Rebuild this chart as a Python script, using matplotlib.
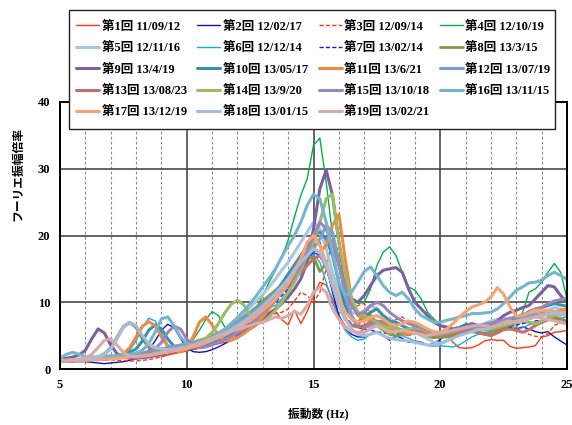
import matplotlib
matplotlib.use("Agg")
import matplotlib.pyplot as plt
from matplotlib.patches import Rectangle
from matplotlib.ticker import MultipleLocator
import numpy as np

# ---------------------------------------------------------------- datos
# 振動数 (Hz): 5〜25 Hz, 0.25 Hz 刻み
FREQ = np.arange(5.0, 25.01, 0.25)

# フーリエ振幅倍率 (1 まとまり = 1 Hz 分, 4 点)
RUN01 = [1.3, 1.3, 1.4, 1.4,  1.5, 1.6, 1.8, 2.0,  1.9, 1.7, 1.7, 1.8,  2.0, 2.0, 1.9, 1.9,
         2.0, 2.1, 2.3, 2.5,  2.7, 2.9, 3.1, 3.3,  3.6, 3.8, 4.0, 4.3,  4.8, 5.4, 5.9, 6.5,
         7.4, 8.5, 8.6, 7.4,  6.6, 8.8, 6.8, 8.6,  11.0, 13.0, 12.6, 10.5,  8.0, 6.5, 5.6, 5.4,
         6.0, 6.8, 6.6, 6.0,  5.5, 5.8, 5.2, 5.0,  5.4, 5.0, 4.8, 4.6,  5.0, 5.4, 4.0, 3.2,
         3.1, 3.2, 3.6, 4.2,  4.4, 4.3, 4.3, 3.4,  3.1, 3.2, 3.3, 3.5,  4.8, 5.0, 5.5, 5.6,
         5.8]
RUN02 = [1.2, 1.2, 1.1, 1.1,  1.1, 1.0, 0.9, 0.8,  0.9, 1.0, 1.1, 1.3,  1.6, 2.0, 2.8, 4.2,
         5.8, 6.7, 6.2, 4.6,  3.2, 2.6, 2.5, 2.6,  2.9, 3.3, 3.8, 4.3,  4.9, 5.6, 6.4, 7.4,
         8.5, 9.6, 10.6, 11.5,  12.8, 14.3, 16.5, 18.8,  20.0, 19.0, 15.5, 11.5,  8.0, 6.0, 5.2, 4.8,
         4.8, 5.2, 5.6, 5.0,  4.3, 5.0, 4.6, 4.0,  4.2, 4.0, 3.6, 3.8,  4.4, 5.2, 5.8, 6.0,
         5.6, 5.8, 6.2, 6.0,  5.8, 6.1, 6.5, 6.2,  6.0, 6.3, 6.0, 5.6,  5.4, 5.6, 4.8, 4.2,
         3.6]
RUN03 = [1.1, 1.1, 1.2, 1.2,  1.3, 1.3, 1.4, 1.4,  1.4, 1.3, 1.3, 1.2,  1.2, 1.3, 1.4, 1.6,
         1.8, 2.1, 2.5, 2.8,  3.0, 3.1, 3.3, 3.5,  3.7, 4.0, 4.3, 4.7,  5.1, 5.6, 6.2, 6.9,
         7.5, 8.0, 8.3, 8.5,  9.0, 10.2, 11.5, 11.0,  10.0, 11.5, 15.0, 19.5,  17.5, 12.0, 9.0, 9.5,
         9.8, 8.2, 7.0, 6.5,  6.8, 7.4, 7.8, 7.0,  6.2, 6.5, 6.0, 5.4,  5.2, 5.5, 5.8, 6.2,
         6.4, 6.6, 6.2, 5.8,  5.6, 5.9, 6.5, 6.8,  6.2, 5.6, 5.2, 4.9,  4.8, 5.3, 6.5, 7.0,
         7.2]
RUN04 = [1.4, 1.4, 1.5, 1.5,  1.6, 1.6, 1.7, 1.7,  1.8, 1.9, 1.9, 2.0,  2.1, 2.2, 2.3, 2.4,
         2.5, 2.7, 2.9, 3.2,  3.6, 4.4, 5.8, 7.4,  8.6, 8.0, 6.3, 5.6,  5.8, 6.6, 7.8, 9.2,
         11.0, 13.0, 14.8, 16.8,  19.3, 22.8, 26.0, 28.5,  33.5, 34.6, 28.0, 20.0,  15.5, 13.0, 10.8, 9.8,
         10.0, 12.0, 15.5, 17.5,  18.3, 17.0, 14.5, 12.3,  11.8, 10.5, 8.5, 7.5,  6.5, 6.0, 5.8, 6.3,
         6.8, 6.5, 6.2, 6.0,  6.4, 6.8, 6.3, 5.9,  6.2, 8.5, 11.5, 12.0,  13.0, 14.5, 15.8, 14.5,
         10.5]
RUN05 = [1.3, 1.3, 1.3, 1.4,  1.5, 1.6, 1.8, 2.2,  3.0, 4.5, 6.2, 6.9,  6.2, 4.6, 3.5, 3.0,
         2.9, 2.9, 3.0, 3.1,  3.3, 3.6, 3.9, 4.3,  4.8, 5.3, 5.9, 6.6,  7.4, 8.3, 9.2, 10.2,
         11.2, 12.3, 13.5, 14.8,  16.0, 17.5, 19.0, 20.5,  22.0, 21.0, 18.0, 14.5,  11.5, 9.5, 8.5, 8.2,
         8.8, 9.5, 9.0, 8.0,  7.5, 7.0, 6.5, 6.0,  5.5, 5.0, 4.5, 4.0,  3.8, 4.2, 4.8, 5.3,
         5.6, 6.0, 6.4, 6.8,  7.2, 7.4, 7.6, 7.5,  7.3, 7.6, 8.0, 8.4,  8.6, 8.8, 9.2, 9.0,
         8.8]
RUN06 = [1.2, 1.2, 1.3, 1.3,  1.4, 1.4, 1.5, 1.6,  1.7, 1.8, 2.1, 2.8,  4.2, 6.2, 7.6, 7.2,
         5.3, 3.7, 3.0, 2.8,  2.9, 3.1, 3.4, 3.7,  4.1, 4.6, 5.2, 5.9,  6.6, 7.4, 8.2, 9.0,
         9.4, 9.2, 9.5, 10.5,  11.8, 13.3, 15.0, 16.5,  17.2, 16.0, 13.0, 10.0,  7.5, 5.8, 4.8, 4.3,
         4.5, 5.3, 5.6, 5.0,  4.5, 4.8, 5.0, 4.6,  4.2, 3.8, 3.5, 3.4,  3.5, 3.4, 3.3, 3.6,
         4.2, 4.8, 5.2, 5.5,  5.6, 5.9, 6.2, 6.0,  5.8, 6.2, 6.6, 6.9,  7.0, 7.3, 7.5, 7.6,
         7.8]
RUN07 = [1.3, 1.3, 1.3, 1.4,  1.4, 1.5, 1.5, 1.6,  1.6, 1.7, 1.8, 1.9,  2.0, 2.1, 2.2, 2.3,
         2.4, 2.6, 2.8, 3.0,  3.2, 3.4, 3.6, 3.9,  4.2, 4.5, 4.9, 5.3,  5.8, 6.3, 6.9, 7.6,
         8.4, 9.2, 10.0, 11.0,  12.0, 13.5, 15.0, 16.5,  17.5, 17.0, 15.0, 12.0,  9.5, 7.8, 6.8, 6.2,
         6.0, 5.8, 5.6, 5.4,  5.3, 5.2, 5.4, 5.6,  5.5, 5.3, 5.1, 5.0,  5.0, 5.2, 5.4, 5.6,
         5.8, 5.9, 6.1, 6.2,  6.0, 6.3, 6.5, 6.4,  6.6, 6.8, 7.0, 7.2,  7.3, 7.5, 7.8, 8.0,
         8.2]
RUN08 = [1.1, 1.2, 1.2, 1.3,  1.4, 1.5, 1.8, 2.3,  3.2, 4.8, 6.4, 7.0,  6.3, 4.5, 3.2, 2.6,
         2.5, 2.5, 2.7, 2.9,  3.1, 3.4, 3.7, 4.1,  4.6, 5.1, 5.7, 6.4,  7.1, 7.8, 8.5, 9.3,
         10.2, 11.0, 11.8, 12.6,  13.5, 14.5, 15.5, 16.5,  16.8, 14.6, 15.8, 12.5,  9.5, 7.5, 6.5, 6.8,
         8.5, 8.0, 6.5, 5.8,  5.2, 5.0, 5.3, 5.5,  5.6, 5.4, 5.0, 4.8,  4.7, 4.8, 5.0, 5.2,
         5.5, 5.6, 5.4, 5.2,  5.4, 5.8, 6.2, 6.6,  6.9, 7.1, 7.0, 6.8,  7.0, 7.4, 7.8, 7.5,
         7.2]
RUN09 = [1.5, 1.6, 1.8, 2.1,  2.8, 4.5, 6.0, 5.4,  3.6, 2.3, 1.8, 1.6,  1.6, 1.7, 1.8, 2.0,
         2.2, 2.4, 2.6, 2.8,  3.0, 3.2, 3.4, 3.6,  3.9, 4.2, 4.5, 4.9,  5.3, 5.8, 6.3, 6.9,
         7.6, 8.3, 9.0, 9.8,  10.8, 12.0, 13.5, 16.0,  21.0, 27.0, 29.8, 26.0,  19.0, 13.5, 10.5, 10.0,
         11.0, 12.5, 14.0, 14.8,  15.0, 15.2, 14.5, 12.0,  10.0, 9.0, 8.0, 7.0,  6.5, 6.3, 6.0, 6.2,
         6.5, 6.8, 6.5, 6.2,  6.5, 7.2, 8.0, 8.5,  8.8, 9.2, 9.5, 10.5,  11.5, 12.5, 12.3, 11.0,
         10.0]
RUN10 = [1.3, 1.3, 1.4, 1.4,  1.5, 1.5, 1.6, 1.7,  1.8, 2.0, 2.2, 2.5,  3.0, 4.2, 5.8, 6.6,
         6.0, 4.5, 3.4, 3.0,  3.0, 3.2, 3.4, 3.7,  4.0, 4.4, 4.8, 5.3,  5.9, 6.6, 7.4, 8.3,
         9.3, 10.4, 11.5, 12.8,  14.2, 15.6, 17.0, 18.5,  20.0, 20.5, 19.5, 17.0,  13.0, 9.5, 7.5, 6.8,
         7.5, 8.5, 9.0, 8.0,  7.2, 7.0, 6.5, 6.0,  5.8, 5.6, 5.3, 5.2,  5.0, 5.3, 5.6, 6.0,
         6.3, 6.0, 5.8, 6.0,  6.4, 6.8, 7.0, 7.3,  7.5, 8.0, 8.6, 9.0,  9.2, 9.5, 9.8, 9.6,
         9.4]
RUN11 = [1.2, 1.2, 1.3, 1.3,  1.4, 1.4, 1.5, 1.6,  1.7, 1.9, 2.3, 3.2,  4.8, 6.4, 7.1, 6.5,
         4.8, 3.4, 2.8, 2.6,  3.0, 4.8, 7.0, 7.8,  6.6, 5.0, 4.2, 4.3,  4.7, 5.3, 6.0, 6.8,
         7.8, 9.0, 10.3, 11.8,  13.3, 15.0, 16.5, 17.5,  18.0, 17.5, 18.5, 21.5,  23.2, 16.5, 10.5, 8.0,
         7.5, 7.2, 7.0, 6.5,  6.0, 5.8, 5.5, 5.2,  5.4, 5.8, 5.5, 5.2,  5.0, 5.2, 5.5, 5.8,
         6.0, 6.3, 6.5, 6.3,  6.0, 6.2, 6.5, 6.8,  7.0, 7.5, 8.5, 9.0,  8.5, 8.0, 8.4, 8.8,
         9.0]
RUN12 = [1.2, 1.2, 1.3, 1.3,  1.4, 1.4, 1.5, 1.6,  1.7, 1.8, 1.9, 2.0,  2.2, 2.4, 2.6, 2.8,
         3.0, 3.2, 3.4, 3.6,  3.8, 4.0, 4.3, 4.6,  5.0, 5.4, 5.9, 6.4,  7.0, 7.6, 8.3, 9.0,
         9.8, 10.6, 11.5, 12.5,  13.5, 14.5, 15.8, 17.0,  18.0, 19.5, 21.5, 20.5,  16.0, 11.0, 8.0, 6.5,
         6.2, 6.5, 7.0, 7.2,  6.8, 6.2, 5.8, 5.6,  5.8, 6.0, 5.7, 5.3,  5.0, 5.4, 5.8, 6.0,
         6.3, 6.5, 6.3, 6.1,  6.3, 6.6, 6.9, 7.1,  7.2, 7.5, 7.9, 8.2,  8.0, 8.3, 8.6, 8.5,
         8.3]
RUN13 = [1.2, 1.2, 1.2, 1.3,  1.3, 1.4, 1.4, 1.5,  1.6, 1.7, 1.8, 1.9,  2.0, 2.1, 2.2, 2.4,
         2.5, 2.7, 2.9, 3.1,  3.3, 3.5, 3.8, 4.1,  4.4, 4.8, 5.2, 5.7,  6.2, 6.8, 7.5, 8.2,
         9.0, 9.8, 10.7, 11.5,  12.5, 13.5, 14.5, 15.5,  16.5, 17.0, 15.5, 12.5,  9.5, 7.5, 6.5, 6.3,
         6.5, 7.0, 7.2, 6.8,  6.3, 6.0, 5.8, 5.6,  5.5, 5.6, 5.8, 5.4,  5.0, 5.2, 5.4, 5.5,
         5.7, 5.9, 5.6, 5.2,  5.0, 5.4, 5.9, 6.0,  5.8, 5.5, 5.9, 6.5,  7.0, 7.4, 7.5, 7.0,
         6.8]
RUN14 = [1.2, 1.2, 1.3, 1.3,  1.4, 1.4, 1.5, 1.5,  1.6, 1.7, 1.8, 1.9,  2.0, 2.1, 2.2, 2.4,
         2.5, 2.7, 2.9, 3.1,  3.3, 3.6, 4.0, 4.6,  5.5, 6.8, 8.4, 9.7,  10.3, 9.6, 8.0, 6.8,
         7.0, 7.8, 8.8, 10.0,  11.5, 13.0, 15.0, 17.0,  19.0, 22.0, 25.5, 26.2,  19.0, 14.0, 10.5, 8.5,
         8.0, 7.5, 7.0, 6.5,  6.2, 6.0, 5.8, 6.0,  6.2, 6.0, 5.6, 5.3,  5.2, 5.4, 5.6, 5.8,
         6.0, 6.2, 6.0, 5.8,  6.0, 6.3, 6.6, 6.8,  7.0, 7.3, 7.0, 6.8,  7.2, 7.6, 8.0, 8.2,
         8.0]
RUN15 = [1.2, 1.2, 1.3, 1.3,  1.4, 1.4, 1.5, 1.5,  1.6, 1.7, 1.8, 1.9,  2.0, 2.2, 2.5, 3.0,
         4.0, 5.5, 6.4, 6.0,  4.5, 3.5, 3.2, 3.3,  3.6, 4.0, 4.4, 4.9,  5.4, 6.0, 6.7, 7.5,
         8.4, 9.4, 10.5, 11.6,  12.8, 14.0, 15.5, 17.5,  20.0, 22.0, 21.0, 18.5,  15.5, 12.0, 9.5, 8.2,
         8.5, 9.5, 10.0, 9.5,  8.5, 7.8, 7.2, 6.8,  6.5, 6.2, 5.8, 5.5,  5.3, 5.5, 5.7, 5.9,
         6.0, 6.2, 6.5, 6.7,  6.9, 7.1, 7.3, 7.6,  7.8, 8.1, 8.5, 8.9,  9.2, 9.8, 10.2, 10.4,
         10.6]
RUN16 = [1.6, 2.2, 2.5, 2.2,  1.9, 1.8, 1.8, 1.9,  2.0, 2.0, 2.1, 2.2,  2.4, 2.8, 3.8, 5.5,
         7.5, 7.8, 6.5, 4.8,  3.8, 3.6, 3.8, 4.2,  4.7, 5.3, 6.0, 6.8,  7.7, 8.7, 9.8, 11.0,
         12.3, 13.6, 15.0, 16.8,  18.5, 20.0, 22.0, 24.5,  26.2, 25.5, 22.0, 17.5,  13.0, 11.0, 11.5, 13.0,
         14.6, 15.3, 14.0, 12.5,  11.5, 11.0, 11.5, 10.5,  9.0, 8.0, 7.5, 7.0,  7.0, 7.3, 7.5, 7.8,
         8.0, 8.3, 8.3, 8.4,  8.5, 9.0, 9.8, 10.8,  11.8, 12.3, 12.9, 13.0,  13.3, 14.0, 14.5, 14.0,
         13.4]
RUN17 = [1.2, 1.2, 1.3, 1.3,  1.3, 1.4, 1.4, 1.5,  1.5, 1.6, 1.7, 1.8,  1.9, 2.0, 2.1, 2.2,
         2.4, 2.5, 2.7, 2.9,  3.1, 3.3, 3.6, 3.9,  4.3, 4.7, 5.1, 5.6,  6.1, 6.7, 7.3, 8.0,
         8.8, 9.6, 10.5, 11.5,  12.8, 14.5, 16.5, 19.0,  20.0, 18.5, 16.0, 13.0,  10.5, 8.5, 7.5, 7.0,
         7.2, 7.8, 8.0, 7.5,  6.8, 6.5, 6.8, 7.2,  7.0, 6.5, 6.0, 5.6,  5.5, 6.0, 6.8, 7.8,
         8.6, 9.3, 9.6, 10.0,  10.8, 12.2, 11.2, 9.3,  7.9, 8.0, 8.4, 8.8,  8.8, 8.8, 8.6, 8.5,
         8.4]
RUN18 = [1.3, 1.3, 1.4, 1.4,  1.5, 1.6, 1.8, 2.2,  3.0, 4.6, 6.3, 7.0,  6.5, 5.0, 3.8, 3.2,
         3.0, 2.9, 3.0, 3.1,  3.3, 3.5, 3.8, 4.1,  4.5, 4.9, 5.4, 5.9,  6.5, 7.1, 7.8, 8.6,
         9.4, 10.3, 11.2, 12.3,  13.5, 14.8, 16.0, 17.0,  18.0, 17.5, 15.5, 12.5,  9.5, 7.5, 6.0, 5.2,
         5.0, 5.2, 5.5, 5.0,  4.6, 4.4, 4.3, 4.2,  4.0, 3.8, 3.6, 3.6,  3.8, 4.2, 4.6, 5.0,
         5.3, 5.6, 5.9, 6.0,  6.2, 6.5, 6.8, 7.0,  7.2, 7.4, 7.6, 7.8,  8.0, 8.2, 8.4, 8.2,
         8.0]
RUN19 = [1.3, 1.3, 1.4, 1.5,  1.7, 2.2, 3.2, 4.3,  4.5, 3.6, 2.5, 1.9,  1.8, 1.9, 2.0, 2.2,
         2.4, 2.6, 2.8, 3.0,  3.3, 3.6, 3.9, 4.2,  4.6, 5.0, 5.3, 5.6,  5.9, 6.2, 6.5, 6.8,
         7.0, 7.4, 7.8, 7.6,  8.0, 8.6, 8.2, 9.5,  11.5, 12.3, 11.5, 9.0,  7.5, 6.2, 5.6, 5.5,
         5.5, 6.0, 6.5, 6.0,  5.5, 5.6, 5.8, 5.6,  5.4, 5.2, 5.0, 5.2,  5.4, 5.6, 5.8, 6.0,
         6.2, 6.4, 6.6, 6.5,  6.3, 6.6, 7.0, 7.2,  7.0, 7.2, 7.5, 7.8,  7.6, 7.4, 7.2, 7.0,
         6.8]

RUNS = [RUN01, RUN02, RUN03, RUN04, RUN05, RUN06, RUN07, RUN08, RUN09, RUN10,
        RUN11, RUN12, RUN13, RUN14, RUN15, RUN16, RUN17, RUN18, RUN19]

LABELS = ["第1回 11/09/12", "第2回 12/02/17", "第3回 12/09/14", "第4回 12/10/19",
          "第5回 12/11/16", "第6回 12/12/14", "第7回 13/02/14", "第8回 13/3/15",
          "第9回 13/4/19", "第10回 13/05/17", "第11回 13/6/21", "第12回 13/07/19",
          "第13回 13/08/23", "第14回 13/9/20", "第15回 13/10/18", "第16回 13/11/15",
          "第17回 13/12/19", "第18回 13/01/15", "第19回 13/02/21"]

# ---------------------------------------------------------------- estilo
COLORS = ["#ff3a10", "#1010cc", "#ff3a10", "#00b050", "#a6c6e6", "#10b0f0", "#1818ee",
          "#7c9c40", "#7c60a0", "#3a92aa", "#f08a40", "#7e9ccc", "#c47070", "#9cbc62",
          "#9a86b8", "#74b6cc", "#f8a472", "#a8bcdc", "#d8aaa8"]
WIDTHS = [1.0, 1.0, 1.0, 1.0, 2.2, 1.0, 1.0, 2.0, 2.2, 2.2,
          2.2, 2.2, 2.2, 2.2, 2.2, 2.2, 2.2, 2.2, 2.2]
STYLES = ["-", "-", (0, (3, 1.6)), "-", "-", "-", (0, (3, 1.6)), "-", "-", "-",
          "-", "-", "-", "-", "-", "-", "-", "-", "-"]

FONTS = ["Liberation Serif", "Noto Sans CJK JP"]
plt.rcParams.update({
    "font.family": FONTS,
    "font.weight": "bold",
    "axes.linewidth": 1.4,
})

for run in RUNS:
    assert len(run) == len(FREQ)

W, H = 572, 425
fig = plt.figure(figsize=(W / 100, H / 100), dpi=100)
ax = fig.add_axes([60 / W, 1 - 369 / H, 507 / W, 267 / H])

handles = []
for run, label, color, lw, ls in zip(RUNS, LABELS, COLORS, WIDTHS, STYLES):
    (h,) = ax.plot(FREQ, run, color=color, lw=lw, ls=ls, label=label,
                   solid_joinstyle="round", solid_capstyle="round")
    handles.append(h)

ax.set_xlim(5, 25)
ax.set_ylim(0, 40)
ax.xaxis.set_major_locator(MultipleLocator(5))
ax.xaxis.set_minor_locator(MultipleLocator(1))
ax.yaxis.set_major_locator(MultipleLocator(10))
ax.set_axisbelow(True)
ax.grid(which="major", color="#4a4a4a", lw=1.2)
ax.grid(which="minor", axis="x", color="#8a8a8a", lw=0.8, ls=(0, (2.5, 2)))
ax.tick_params(which="both", direction="in", length=0, labelsize=9, pad=7)
for lab in ax.get_xticklabels() + ax.get_yticklabels():
    lab.set_fontweight("bold")

fig.text(18 / W, 1 - 174 / H, "フーリエ振幅倍率", rotation=90,
         ha="center", va="center", fontsize=8.5, fontweight="bold")
fig.text(318 / W, 1 - 414 / H, "振動数 (Hz)", ha="center", va="center",
         fontsize=8.5, fontweight="bold")

# 凡例の枠 (白地・黒枠)
fig.patches.append(Rectangle((69 / W, 1 - 129 / H), 486 / W, 119 / H,
                             transform=fig.transFigure, facecolor="white",
                             edgecolor="#222222", lw=1.0, zorder=4))

# 凡例: 行優先で並べるため列ごとに並べ替え
order = [0, 4, 8, 12, 16, 1, 5, 9, 13, 17, 2, 6, 10, 14, 18, 3, 7, 11, 15]
leg = fig.legend([handles[i] for i in order], [LABELS[i] for i in order],
                 loc="upper left", bbox_to_anchor=(76 / W, 1 - 20.6 / H),
                 ncols=4, fontsize=9, frameon=False, borderaxespad=0,
                 borderpad=0, labelspacing=0.75, columnspacing=0.84,
                 handlelength=1.85, handletextpad=0.2)
leg.set_zorder(5)
for t in leg.get_texts():
    t.set_fontweight("bold")

fig.savefig("out.png", dpi=100)
